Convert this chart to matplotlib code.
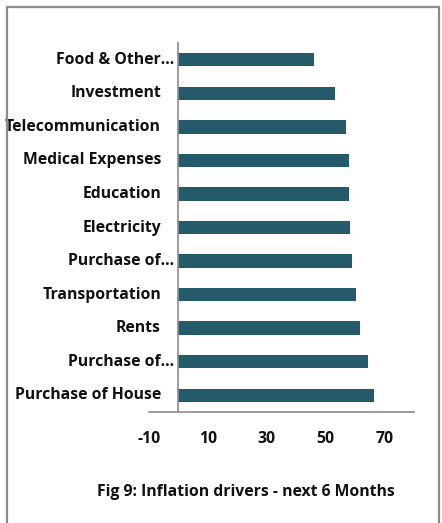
import matplotlib
matplotlib.use("Agg")
import matplotlib.pyplot as plt
from matplotlib.transforms import offset_copy
from matplotlib.patches import Rectangle

# Inflation drivers, top of chart to bottom
categories = [
    "Food & Other…",
    "Investment",
    "Telecommunication",
    "Medical Expenses",
    "Education",
    "Electricity",
    "Purchase of…",
    "Transportation",
    "Rents",
    "Purchase of…",
    "Purchase of House",
]
values = [45.9, 53.2, 57.0, 57.9, 58.0, 58.2, 58.9, 60.3, 61.8, 64.5, 66.3]
xticks = [-10, 10, 30, 50, 70]
caption = "Fig 9: Inflation drivers - next 6 Months"

BAR = "#245A69"
AXIS = "#8C8C8C"
FONT = "Open Sans"
FS = 11.3

fig = plt.figure(figsize=(4.42, 5.23), dpi=100)
ax = fig.add_axes([149 / 442, 1 - 412 / 523, 265 / 442, 369 / 523])

y = list(range(len(categories)))[::-1]
ax.barh(y, values, height=0.4, color=BAR, edgecolor="none", zorder=2)

ax.set_xlim(-10, 80)
ax.set_ylim(-0.5, len(categories) - 0.5)

for s in ("top", "right"):
    ax.spines[s].set_visible(False)
ax.spines["left"].set_position(("data", 0))
for s in ("left", "bottom"):
    ax.spines[s].set_color(AXIS)
    ax.spines[s].set_linewidth(1.2)

ax.set_yticks([])
ax.set_xticks(xticks)
ax.set_xticklabels([str(t) for t in xticks], fontweight="bold", fontsize=FS,
                   family=FONT, color="#111111")
ax.tick_params(axis="x", length=0, pad=14)

# category labels; truncated names sit closer to the axis
for yi, name in zip(y, categories):
    pad = 4.5 if name.endswith("…") else 17.5
    tr = offset_copy(ax.transData, fig=fig, x=-pad, y=0, units="dots")
    ax.text(0, yi, name, transform=tr, ha="right", va="center",
            fontsize=FS, fontweight="bold", family=FONT, color="#111111")

fig.text(246 / 442, 1 - 492 / 523, caption, ha="center", va="center",
         fontsize=FS, fontweight="bold", family=FONT, color="#111111")

# chart frame
fig.patches.append(Rectangle((6.5 / 442, -0.01), 432.5 / 442, 1 - 7 / 523 + 0.01,
                             transform=fig.transFigure, fill=False,
                             edgecolor="#8A8A8A", linewidth=1.6))

fig.savefig("out.png", dpi=100)
